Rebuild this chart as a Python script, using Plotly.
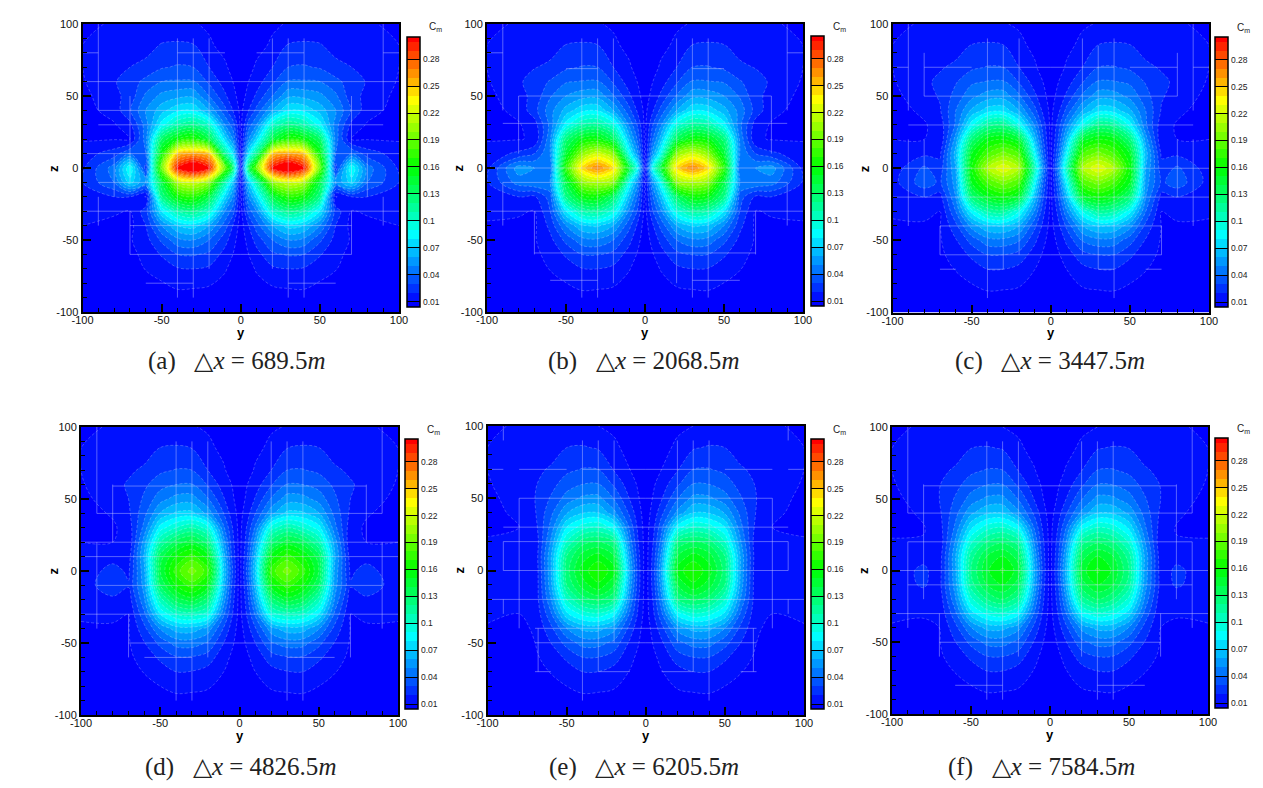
import plotly.graph_objects as go

W, H = 1263, 788
# half-plane sample positions (the field is mirrored about y = 0)
Y_HALF = [0, 5, 10, 20, 30, 40, 50, 60, 70, 80, 100]
Z_ROWS = [100, 85, 70, 60, 50, 40, 30, 20, 10, 0, -10, -20, -30, -40, -50, -60, -70, -85, -100]
AXIS_TICKS = [-100, -50, 0, 50, 100]
AXIS_LABELS = ["-100", "-50", "0", "50", "100"]
CBAR_TICKS = [0.01, 0.04, 0.07, 0.1, 0.13, 0.16, 0.19, 0.22, 0.25, 0.28]
CBAR_LABELS = ["0.01", "0.04", "0.07", "0.1", "0.13", "0.16", "0.19", "0.22", "0.25", "0.28"]
SP = "\u00a0"
CAPTIONS = [f"(a){SP}{SP}{SP}△<i>x</i>{SP}={SP}689.5<i>m</i>", f"(b){SP}{SP}{SP}△<i>x</i>{SP}={SP}2068.5<i>m</i>", f"(c){SP}{SP}{SP}△<i>x</i>{SP}={SP}3447.5<i>m</i>",
            f"(d){SP}{SP}{SP}△<i>x</i>{SP}={SP}4826.5<i>m</i>", f"(e){SP}{SP}{SP}△<i>x</i>{SP}={SP}6205.5<i>m</i>", f"(f){SP}{SP}{SP}△<i>x</i>{SP}={SP}7584.5<i>m</i>"]

# C_m in percent, rows follow Z_ROWS, columns follow Y_HALF
CM_A = [
 [.3,.5,.7,.9,1.05,1.15,1.2,1.2,1.15,1.1,.8],
 [.3,.6,.8,1.1,2.1,2.2,2.1,1.6,1.3,1.2,1.0],
 [.4,.8,1.1,2.0,3.0,3.1,2.9,2.3,2.0,1.6,1.0],
 [.5,1.0,1.5,2.8,4.1,4.1,4.0,3.3,2.5,1.9,.9],
 [.6,1.3,2.2,4,5.8,5.7,5.3,4.2,2.4,1.7,.7],
 [.7,2,3.3,6,8,7.8,6.6,5,2.9,1.4,.6],
 [.7,3.5,5,10,12,11,8.5,4.5,1.7,.9,.5],
 [.7,5,7.5,14,17,16,13,4.5,1.0,.95,.9],
 [.8,8,12,25,26,25,16,4,4,2.5,1.5],
 [.8,13,19,30,33,30,19,2.5,9,4.5,1.8],
 [.8,7,11,20,22,21,14,5,7.5,4,2],
 [.7,5,7.5,14,17,16,12,.9,2,2,1.5],
 [.6,3.5,5,10,12,11,8,2.5,.95,1.1,1.1],
 [.5,2,3.5,6,7.5,7,5,2,.7,.8,1.0],
 [.4,1.4,2.4,4,5,4.7,3.2,1.6,.9,.6,.5],
 [.4,1,1.6,2.8,3.1,3,2.1,1.3,.7,.5,.4],
 [.3,.7,1.1,1.8,2,1.9,1.4,1.05,.5,.4,.3],
 [.2,.4,.6,.8,.9,.95,.7,.5,.4,.3,.2],
 [.2,.3,.3,.4,.5,.5,.4,.3,.3,.2,.2],
]
CM_B = [
 [.25,.45,.65,.9,1.05,1.15,1.2,1.2,1.15,1.1,.8],
 [.3,.55,.8,1.15,2.05,2.15,2.05,1.6,1.3,1.2,1.0],
 [.4,.75,1.1,2,3,3.05,2.8,2.2,1.95,1.6,1],
 [.5,1,1.5,2.85,4.1,4.05,3.9,3.1,2.4,1.85,.9],
 [.6,1.3,2.2,4.1,5.7,5.6,5,3.9,2.3,1.65,.7],
 [.7,1.9,3.3,6,7.9,7.7,6.4,4.6,2.6,1.3,.6],
 [.7,3,4.8,9.5,11.5,11,8.5,4.3,1.5,.9,.5],
 [.7,4,6.5,13.5,16,15.5,12.5,4.8,1.1,.95,.9],
 [.7,5.5,9,20,22,20,14.5,5,3,2.2,1.5],
 [.7,9,14,24.5,27,24.5,17,4,5,5.5,1.7],
 [.7,5.5,9,20,21,20,14,5,5,4.5,1.9],
 [.7,4,6.5,13,16,15.5,12,3.5,1.8,2,1.5],
 [.6,3,4.8,9.5,11.5,11,8,3,.95,1.1,1.1],
 [.5,1.9,3.3,6,7.2,6.9,5,2.3,.8,.85,.95],
 [.45,1.35,2.3,4,4.8,4.6,3.3,1.7,.9,.65,.55],
 [.4,.95,1.55,2.7,3.05,3,2.15,1.35,.75,.5,.4],
 [.3,.7,1.05,1.75,2,1.95,1.45,1.05,.55,.4,.3],
 [.2,.4,.6,.85,.95,1,.75,.5,.4,.3,.2],
 [.2,.3,.3,.4,.5,.5,.4,.3,.3,.2,.2],
]
CM_C = [
 [.2,.4,.6,.9,1.05,1.15,1.2,1.2,1.15,1.1,.8],
 [.3,.5,.8,1.2,2.05,2.15,2.05,1.6,1.3,1.2,1.0],
 [.4,.7,1.1,2.0,3.0,3.05,2.8,2.2,1.9,1.6,1.0],
 [.5,1,1.5,2.9,4.1,4.05,3.8,2.9,2.2,1.8,.9],
 [.6,1.3,2.2,4.2,5.6,5.5,4.7,3.4,2.1,1.6,.7],
 [.7,1.8,3.3,6,7.7,7.5,6.2,4.0,1.9,1.2,.6],
 [.7,2.6,4.8,9,12,11.5,8.6,4.2,1.4,.9,.6],
 [.7,3.2,6.5,14.5,16,15.5,12.5,5.5,1.1,1.0,1.0],
 [.7,4,8.5,18,19.5,18,15,6.5,1.8,1.8,1.5],
 [.6,5,10.5,21,23,21,16,6,2.4,3.2,1.4],
 [.7,4,8.5,18,19.5,18,15,5.5,2.8,3.6,1.6],
 [.7,3.2,6.5,14.5,16,15,12.5,5,1.6,2,1.5],
 [.7,2.4,4.8,9,11.5,11,8.4,4,1,1.2,1.1],
 [.6,1.8,3.2,6,7.1,6.9,5.4,2.7,.95,.9,.9],
 [.5,1.3,2.2,4.1,4.7,4.6,3.4,1.9,.9,.7,.6],
 [.4,.9,1.5,2.6,3,3,2.2,1.4,.8,.5,.4],
 [.3,.7,1.0,1.7,2,2,1.5,1.05,.6,.4,.3],
 [.2,.4,.6,.85,.95,1,.75,.55,.4,.3,.2],
 [.2,.3,.3,.4,.5,.5,.4,.3,.3,.2,.2],
]
CM_D = [
 [.2,.4,.6,.9,1.05,1.15,1.2,1.2,1.15,1.1,.8],
 [.3,.5,.8,1.2,2.0,2.15,2.05,1.6,1.3,1.15,1],
 [.4,.7,1.1,2,3.0,3.05,2.8,2.15,1.85,1.55,1],
 [.5,1,1.5,2.9,4.05,4.0,3.6,2.8,2.1,1.7,.9],
 [.55,1.2,2.1,4.1,5.5,5.4,4.6,3.2,2,1.5,.7],
 [.6,1.6,3,5.7,7.3,7.2,6.1,3.7,1.8,1.1,.6],
 [.6,2.2,4.2,9.5,11,10,8.5,4.4,1.4,.85,.6],
 [.6,2.6,5.5,12.5,14.5,13.5,11,5.6,1.1,1,1],
 [.6,3,6.5,15.5,17.5,16,13.5,6.2,1.5,1.6,1.4],
 [.5,3.4,7,17.5,19.5,17.5,14,5.8,1.8,2.4,1.3],
 [.6,3,6.5,15.5,17.5,16,13,5.5,2.1,2.6,1.5],
 [.6,2.6,5.5,12.5,14.5,13.5,10.5,4.9,1.4,1.8,1.4],
 [.6,2.2,4.2,9.5,10.5,10,8,3.8,1,1.15,1.1],
 [.55,1.6,2.9,5.6,6.6,6.5,5.1,2.7,.95,.9,.9],
 [.5,1.2,2,3.9,4.5,4.4,3.3,1.95,.9,.7,.6],
 [.4,.85,1.4,2.5,2.9,2.9,2.2,1.4,.8,.5,.4],
 [.3,.65,1,1.65,1.95,2,1.5,1.05,.6,.4,.3],
 [.2,.4,.6,.85,.95,1,.75,.55,.4,.3,.2],
 [.2,.3,.3,.4,.5,.5,.4,.3,.3,.2,.2],
]
CM_E = [
 [.2,.35,.55,.85,1.0,1.1,1.2,1.2,1.15,1.1,.85],
 [.3,.5,.75,1.15,1.9,2.1,2.0,1.6,1.3,1.15,1.0],
 [.35,.7,1,1.9,3.0,3.05,2.75,2.1,1.8,1.45,1],
 [.45,.9,1.4,2.8,4.0,3.95,3.5,2.6,1.9,1.6,.9],
 [.5,1.1,1.9,3.9,5.3,5.2,4.4,3.1,2,1.5,.7],
 [.5,1.4,2.7,5.3,7,6.9,5.9,3.7,1.9,1.2,.7],
 [.5,1.8,3.7,8.5,10,9.5,8,4.3,1.6,1,.8],
 [.5,2.1,4.5,12,13,12.5,10,5.1,1.15,1.05,1.1],
 [.5,2.4,5.4,14,15.5,14.5,12,5.8,1.2,1.6,1.5],
 [.4,2.6,6,15.5,16.8,15.5,12.5,5.8,1.1,1.8,1.5],
 [.5,2.5,5.6,14,15.8,14.5,12,5.6,1.1,1.9,1.6],
 [.5,2.2,4.8,12,13.3,12.5,10,4.9,1.2,1.5,1.5],
 [.5,1.9,3.8,8.5,9.8,9.3,7.8,3.8,1.1,1.0,1.1],
 [.45,1.4,2.6,5.4,6.4,6.3,5,2.7,1.05,.9,.95],
 [.4,1.1,1.8,3.7,4.4,4.4,3.4,2,1,.7,.6],
 [.35,.8,1.3,2.5,3,3,2.2,1.4,.85,.5,.4],
 [.3,.6,.95,1.6,2,2,1.5,1.05,.6,.4,.3],
 [.2,.4,.55,.85,.95,1,.75,.55,.4,.3,.2],
 [.2,.3,.3,.4,.5,.5,.4,.3,.3,.2,.2],
]
CM_F = [
 [.2,.35,.6,.85,1,1.1,1.2,1.2,1.15,1.1,.85],
 [.3,.5,.75,1.15,1.95,2.1,2.0,1.6,1.3,1.15,1],
 [.4,.7,1.05,1.95,3.0,3.05,2.75,2.1,1.8,1.5,1],
 [.45,.9,1.4,2.8,4.0,3.95,3.5,2.65,1.95,1.65,.9],
 [.5,1.1,1.95,3.9,5.3,5.2,4.4,3.1,2,1.5,.7],
 [.55,1.5,2.8,5.3,7,6.9,5.8,3.6,1.8,1.15,.65],
 [.6,2,3.9,8.5,10,9.5,7.8,4.2,1.5,.95,.7],
 [.6,2.4,4.9,11.5,12.8,12,9.8,5.1,1.15,1.05,1.1],
 [.6,2.7,5.8,13.5,15,14,11.5,5.8,1.4,1.7,1.5],
 [.5,3,6.2,14.5,16.2,14.8,12,5.7,1.5,2.2,1.5],
 [.6,2.7,5.9,13.5,15,14,11.5,5.5,1.6,2.1,1.6],
 [.6,2.4,5,11.5,13,12,9.7,4.8,1.3,1.6,1.5],
 [.55,2,3.9,8.5,9.8,9.2,7.5,3.7,1.1,1.05,1.1],
 [.5,1.5,2.7,5.3,6.3,6.3,4.9,2.6,1,.9,.95],
 [.45,1.1,1.9,3.7,4.4,4.3,3.3,1.95,.95,.7,.6],
 [.35,.8,1.3,2.5,3,2.95,2.2,1.4,.85,.5,.4],
 [.3,.6,.95,1.6,2,2,1.5,1.05,.6,.4,.3],
 [.2,.4,.55,.85,.95,1,.75,.55,.4,.3,.2],
 [.2,.3,.3,.4,.5,.5,.4,.3,.3,.2,.2],
]
# mesh block edges, mirrored about y = 0: [z, |y| from, |y| to] and [|y|, z from, z to]
MESH_H_A = [[60,0,100],[40,0,90],[30,0,90],[10,0,100],[-10,0,90],[-30,0,100],[-40,0,70],[-60,0,70],[-80,30,60],[80,10,40],[80,90,100]]
MESH_V_A = [[40,-90,90],[30,-90,90],[20,-70,90],[90,40,100],[90,-40,-20],[70,-60,-30],[70,-10,50],[80,-20,10]]
MESH_H_B = [[69,30,50],[50,0,80],[31,0,90],[0,0,100],[-10,0,90],[-30,0,100],[-59,0,70],[-78,30,60],[80,90,100]]
MESH_V_B = [[40,-90,90],[30,-90,90],[20,-80,90],[90,40,100],[90,-40,-10],[70,-60,-30],[80,10,50]]
MESH_H_C = [[70,0,40],[70,50,80],[70,90,100],[50,0,80],[30,0,90],[0,0,100],[-20,0,100],[-40,0,70],[-60,0,70],[-70,60,70],[-70,30,40]]
MESH_V_C = [[40,-90,90],[30,-70,85],[20,-60,90],[90,-40,20],[90,40,100],[80,-20,20],[80,50,80],[70,-60,-40]]
MESH_H_D = [[59,0,80],[40,0,90],[20,0,100],[10,0,100],[-10,0,90],[-30,0,100],[-50,0,70],[-60,30,60]]
MESH_V_D = [[40,-90,90],[30,-90,90],[20,-60,90],[90,40,100],[90,-40,20],[70,-60,-30],[80,20,60]]
MESH_H_E = [[70,0,40],[70,50,80],[70,90,100],[50,0,80],[30,0,90],[20,0,90],[0,0,90],[-20,0,100],[-40,0,70],[-50,0,70],[-70,60,70],[-70,10,30]]
MESH_V_E = [[40,-90,90],[30,-70,90],[20,-50,90],[90,90,100],[90,0,20],[90,-30,-20],[80,-40,50],[68,-70,-40]]
MESH_H_F = [[59,0,80],[40,0,90],[20,0,90],[0,0,100],[-10,0,90],[-30,0,100],[-50,0,70],[-80,30,60]]
MESH_V_F = [[40,-90,90],[30,-90,90],[20,-60,90],[90,40,100],[90,-40,20],[70,-60,-30],[80,-20,60]]

# layout in pixels
PLOTS = [(82.5, 399, 24, 312), (487, 803, 24, 312), (892.5, 1209, 24, 312.5),
         (81, 398, 427, 715), (487.5, 804, 426, 715), (892, 1208, 427, 714)]
CBARS = [(406.5, 36.5, 269.5), (811, 36, 270), (1215, 37, 270),
         (405, 439, 270), (811, 439, 270), (1215, 438, 270)]
CAP_POS = [(237, 361), (643, 361), (1050, 361), (240, 767), (644, 767), (1041, 767)]
GRIDS = [CM_A, CM_B, CM_C, CM_D, CM_E, CM_F]
MESH = [(MESH_H_A, MESH_V_A), (MESH_H_B, MESH_V_B), (MESH_H_C, MESH_V_C),
        (MESH_H_D, MESH_V_D), (MESH_H_E, MESH_V_E), (MESH_H_F, MESH_V_F)]

COLORS = [[0, "rgb(0,0,255)"], [0.018, "rgb(0,0,255)"], [0.268, "rgb(0,255,255)"],
          [0.517, "rgb(0,255,0)"], [0.767, "rgb(255,255,0)"], [1, "rgb(255,0,0)"]]
ZMIN, ZMAX = 0.0045, 0.3053

fig = go.Figure()
Y_FULL = [-v for v in Y_HALF[:0:-1]] + Y_HALF
TICK_FONT = dict(family="Liberation Sans", size=11, color="#111")
TITLE_FONT = dict(family="Liberation Sans", size=13, color="black", weight="bold")
annotations = []
for i, grid in enumerate(GRIDS):
    n = "" if i == 0 else str(i + 1)
    z = [[v / 100 for v in row[:0:-1] + row] for row in grid]
    x0, x1, y0, y1 = PLOTS[i]
    cx, cy, cl = CBARS[i]
    contour = dict(start=0.01, end=0.30, size=0.01)
    fig.add_trace(go.Contour(
        x=Y_FULL, y=Z_ROWS, z=z, xaxis="x" + n, yaxis="y" + n, zauto=False, zmin=ZMIN, zmax=ZMAX,
        autocontour=False, colorscale=COLORS, hoverinfo="skip",
        contours=dict(coloring="fill", showlines=False, **contour), line=dict(width=0),
        colorbar=dict(x=cx / W, xanchor="left", xpad=0, y=1 - cy / H, yanchor="top", ypad=0,
                      len=cl, lenmode="pixels", thickness=13, thicknessmode="pixels",
                      outlinecolor="black", outlinewidth=1.5, borderwidth=0,
                      ticks="inside", ticklen=13, tickcolor="black", tickwidth=1.2,
                      tickmode="array", tickvals=CBAR_TICKS, ticktext=CBAR_LABELS, tickprefix="\u00a0",
                      tickfont=dict(family="Liberation Sans", size=8.5, color="#222"))))
    fig.add_trace(go.Contour(
        x=Y_FULL, y=Z_ROWS, z=z, xaxis="x" + n, yaxis="y" + n, showscale=False, hoverinfo="skip",
        autocontour=False, contours=dict(coloring="none", **contour),
        line=dict(color="rgba(255,255,255,0.3)", width=0.8, dash="3px,2px")))
    mx, my = [], []
    for zv, a, b in MESH[i][0]:
        mx += [-b, -a, None, a, b, None]
        my += [zv, zv, None, zv, zv, None]
    for yv, a, b in MESH[i][1]:
        mx += [-yv, -yv, None, yv, yv, None]
        my += [a, b, None, a, b, None]
    fig.add_trace(go.Scatter(x=mx, y=my, mode="lines", xaxis="x" + n, yaxis="y" + n, showlegend=False,
                             hoverinfo="skip", line=dict(color="rgba(215,215,255,0.42)", width=1)))
    axis = dict(showgrid=False, zeroline=False, showline=True, mirror=True, linecolor="black", linewidth=2,
                ticks="inside", ticklen=8, tickwidth=2, tickcolor="black", tickfont=TICK_FONT,
                range=[-100, 100], tickmode="array", tickvals=AXIS_TICKS, ticktext=AXIS_LABELS,
                minor=dict(tickmode="array", tickvals=list(range(-90, 100, 10)), ticks="inside",
                           ticklen=4, tickwidth=1, tickcolor="black"))
    fig.update_layout({
        "xaxis" + n: dict(axis, domain=[x0 / W, x1 / W], anchor="y" + n, ticklabelstandoff=-3),
        "yaxis" + n: dict(axis, domain=[1 - y1 / H, 1 - y0 / H], anchor="x" + n),
    })
    annotations.append(dict(xref="paper", yref="paper", x=(x0 + x1) / 2 / W, y=1 - (y1 + 20) / H,
                            text="y", showarrow=False, xanchor="center", yanchor="middle", font=TITLE_FONT))
    annotations.append(dict(xref="paper", yref="paper", x=(x0 - 28.5) / W, y=1 - (y0 + y1) / 2 / H,
                            text="z", textangle=-90, showarrow=False, xanchor="center", yanchor="middle", font=TITLE_FONT))
    annotations.append(dict(xref="paper", yref="paper", x=CAP_POS[i][0] / W, y=1 - CAP_POS[i][1] / H,
                            text=CAPTIONS[i], showarrow=False, xanchor="center", yanchor="middle",
                            font=dict(family="Liberation Serif", size=25, color="#222")))
    annotations.append(dict(xref="paper", yref="paper", x=(cx + 20) / W, y=1 - (cy - 9) / H,
                            text="C<sub>m</sub>", showarrow=False, xanchor="left", yanchor="middle",
                            font=dict(family="Liberation Sans", size=10, color="#222")))

fig.update_layout(width=W, height=H, margin=dict(l=0, r=0, t=0, b=0, autoexpand=False), paper_bgcolor="white",
                  plot_bgcolor="white", showlegend=False, annotations=annotations)
fig.write_html("out.html", config={"displayModeBar": False}, post_script="document.body.style.margin='0px';")
